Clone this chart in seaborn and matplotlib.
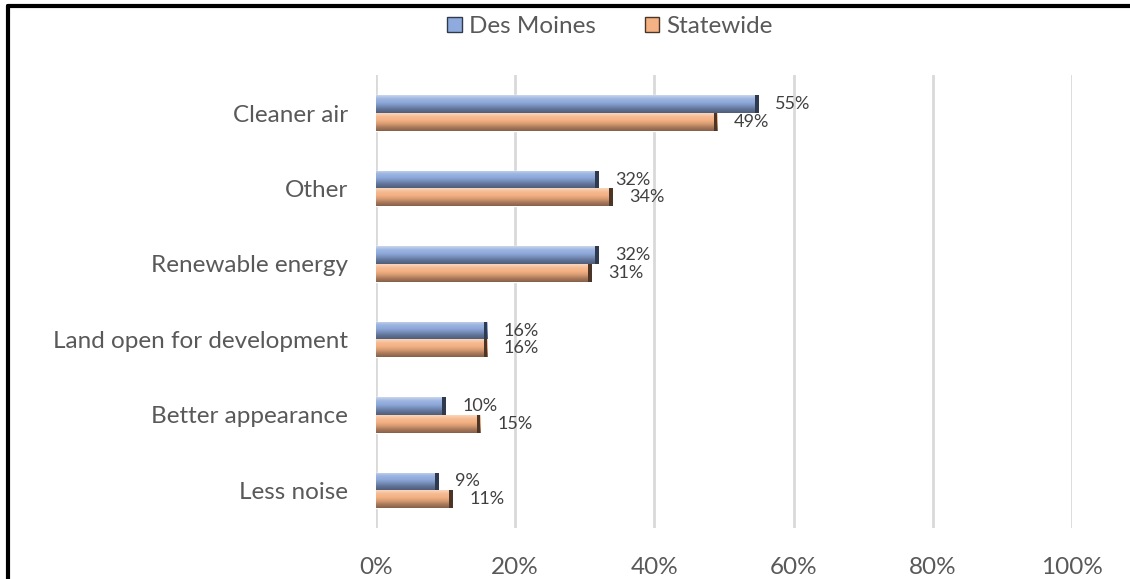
"""Benefits of solar: Des Moines vs Statewide"""
import numpy as np
import pandas as pd
import seaborn as sns
from matplotlib import pyplot as plt
from matplotlib.colors import LinearSegmentedColormap
from matplotlib.patches import Rectangle

categories = [
    "Cleaner air",
    "Other",
    "Renewable energy",
    "Land open for development",
    "Better appearance",
    "Less noise",
]
des_moines = [55, 32, 32, 16, 10, 9]
statewide = [49, 34, 31, 16, 15, 11]
series = ["Des Moines", "Statewide"]

df = pd.DataFrame(
    {"Category": categories * 2,
     "Share": des_moines + statewide,
     "Area": [series[0]] * len(categories) + [series[1]] * len(categories)}
)

sns.set_style("white")
plt.rcParams["font.family"] = ["Lato", "DejaVu Sans"]

base = {"Des Moines": "#8faadc", "Statewide": "#f4b183"}
# top -> bottom shading of each bar
ramps = {
    "Des Moines": ["#c9d6ee", "#9db5e0", "#8faadc", "#7890bb", "#5f7296", "#4e5d7a"],
    "Statewide": ["#fad6bd", "#f6bb92", "#f4b183", "#d69b72", "#a9795a", "#86604a"],
}
caps = {"Des Moines": "#2f3a4f", "Statewide": "#4a3526"}

fig = plt.figure(figsize=(11.3, 5.79), dpi=100)
ax = fig.add_axes([0.3327, 0.088, 0.6160, 0.782])

sns.barplot(data=df, x="Share", y="Category", hue="Area", palette=base,
            order=categories, hue_order=series, width=0.47, gap=0,
            orient="h", ax=ax, legend=False)

ax.set_xticks(np.arange(0, 101, 20))
ax.set_xticklabels([f"{v}%" for v in range(0, 101, 20)])
ax.xaxis.grid(True, color="#d9d9d9", linewidth=2)
ax.set_axisbelow(True)
for s in ax.spines.values():
    s.set_visible(False)
ax.set_xlabel("")
ax.set_ylabel("")
ax.tick_params(axis="both", length=0, labelsize=17.5, labelcolor="#595959")
ax.tick_params(axis="x", pad=21)
ax.tick_params(axis="y", pad=20)

# bevelled look: gradient fill clipped to each bar, dark cap at the end
grad = np.linspace(0, 1, 64).reshape(-1, 1)
for cont, name in zip(ax.containers, series):
    cmap = LinearSegmentedColormap.from_list(name, ramps[name])
    for p in cont.patches:
        x0, y0 = p.get_x(), p.get_y()
        w, h = p.get_width(), p.get_height()
        im = ax.imshow(grad, cmap=cmap, aspect="auto", origin="lower",
                       extent=[x0, x0 + w, y0, y0 + h], zorder=p.get_zorder())
        im.set_clip_path(p)
        ax.add_patch(Rectangle((x0 + w - 0.5, y0), 0.5, h,
                               facecolor=caps[name], edgecolor="none",
                               zorder=p.get_zorder() + 0.1))
    ax.bar_label(cont, labels=[f"{int(v)}%" for v in cont.datavalues],
                 padding=12, fontsize=13, color="#404040")
ax.set_xlim(0, 100)
ax.set_ylim(5.5, -0.5)

handles = [Rectangle((0, 0), 1, 1, facecolor=base[n], edgecolor=caps[n],
                     linewidth=1) for n in series]
fig.legend(handles, series, loc="upper center", bbox_to_anchor=(0.54, 1.01),
           ncol=2, frameon=False, fontsize=17.5, labelcolor="#595959",
           handlelength=0.6, handleheight=0.6, handletextpad=0.3,
           columnspacing=2.0)

# outer frame (only left and top visible in the source crop)
fig.add_artist(plt.Line2D([0.0075, 0.0075], [0, 0.99], color="black",
                          linewidth=3, transform=fig.transFigure))
fig.add_artist(plt.Line2D([0.0075, 1], [0.99, 0.99], color="black",
                          linewidth=3, transform=fig.transFigure))

fig.savefig("out.png", dpi=100)
